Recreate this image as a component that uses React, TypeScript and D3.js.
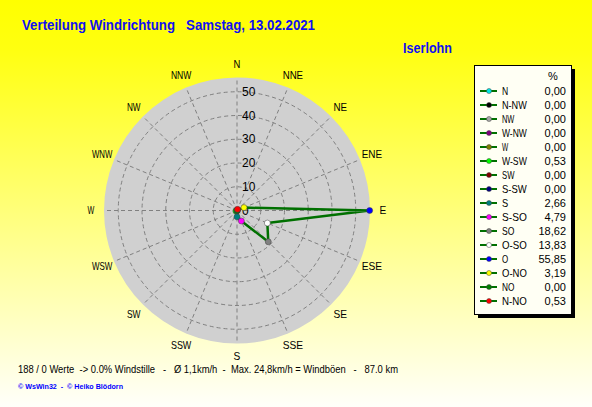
import React from "react";
import * as d3 from "d3";

const legendNames = ["N", "N-NW", "NW", "W-NW", "W", "W-SW", "SW", "S-SW", "S", "S-SO", "SO", "O-SO", "O", "O-NO", "NO", "N-NO"];
const legendValues = [0.0, 0.0, 0.0, 0.0, 0.0, 0.53, 0.0, 0.0, 2.66, 4.79, 18.62, 13.83, 55.85, 3.19, 0.0, 0.53];
const legendColors = ["#00e8e8", "#000000", "#a8a8a8", "#800080", "#808000", "#00ff00", "#800000", "#000080", "#008080", "#ff00ff", "#808080", "#ffffff", "#0000ff", "#ffff00", "#008000", "#ff0000"];
const compassLabels = ["N", "NNE", "NE", "ENE", "E", "ESE", "SE", "SSE", "S", "SSW", "SW", "WSW", "W", "WNW", "NW", "NNW"];
const ringTicks = [0, 10, 20, 30, 40, 50];

const W = 592, H = 407;
const cx = 237, cy = 210.5;
const R = 133;

export default function App() {
  const r = d3.scaleLinear().domain([0, 56]).range([0, R]);
  const pt = (deg: number, rad: number) => {
    const a = (deg * Math.PI) / 180;
    return [cx + rad * Math.sin(a), cy - rad * Math.cos(a)];
  };
  const pts = legendValues.map((v, i) => pt(-i * 22.5, r(v)));
  const line = d3.line().curve(d3.curveLinearClosed)(pts as [number, number][]);
  const font = "Arial, 'Liberation Sans', sans-serif";
  return (
    <svg width={W} height={H} style={{ position: "absolute", left: 0, top: 0, display: "block" }} fontFamily={font}>
      <defs>
        <linearGradient id="bg" x1="0" y1="0" x2="0" y2="1">
          <stop offset="0" stopColor="#ffff00" />
          <stop offset="0.12" stopColor="#ffff10" />
          <stop offset="1" stopColor="#fffffa" />
        </linearGradient>
      </defs>
      <rect x={0} y={0} width={W} height={H} fill="url(#bg)" />
      <text x={22} y={30} fill="#1010f0" fontWeight="bold" fontSize={14} textLength={293} lengthAdjust="spacingAndGlyphs" style={{ whiteSpace: "pre" }}>
        {"Verteilung Windrichtung   Samstag, 13.02.2021"}
      </text>
      <text x={403} y={53} fill="#1010f0" fontWeight="bold" fontSize={14} textLength={49} lengthAdjust="spacingAndGlyphs">Iserlohn</text>

      <circle cx={cx} cy={cy} r={R} fill="#d0d0d0" />
      {ringTicks.filter((t) => t > 0).map((t) => (
        <circle key={t} cx={cx} cy={cy} r={r(t)} fill="none" stroke="#808080" strokeDasharray="4,3" strokeWidth={1} />
      ))}
      {compassLabels.map((_, i) => {
        const [x, y] = pt(i * 22.5, R);
        return <line key={i} x1={cx} y1={cy} x2={x} y2={y} stroke="#808080" strokeDasharray="4,3" strokeWidth={1} />;
      })}
      {ringTicks.map((t) => (
        <text key={t} x={cx + 5} y={cy - r(t)} dy="0.35em" fontSize={12} fill="#000">{t}</text>
      ))}
      {compassLabels.map((lab, i) => {
        const [x, y] = pt(i * 22.5, 146);
        return (
          <text key={lab} x={x} y={y} dy="0.35em" textAnchor="middle" fontSize={11} fill="#000" textLength={lab.length * 6.8} lengthAdjust="spacingAndGlyphs">{lab}</text>
        );
      })}
      <path d={line || ""} fill="none" stroke="#007000" strokeWidth={2.5} strokeLinejoin="round" />
      {pts.map((p, i) => (
        <circle key={i} cx={p[0]} cy={p[1]} r={3} fill={legendColors[i]} stroke="#404040" strokeWidth={0.5} />
      ))}

      <rect x={478} y={69} width={97} height={249} fill="#000" />
      <rect x={474.5} y={65.5} width={97} height={249} fill="#fffff4" stroke="#000" strokeWidth={1} />
      <text x={553} y={80} textAnchor="middle" fontSize={11} fill="#000">%</text>
      {legendNames.map((n, i) => {
        const y = 91 + i * 14;
        return (
          <g key={n}>
            <line x1={480} x2={497} y1={y} y2={y} stroke="#007000" strokeWidth={2} />
            <circle cx={489} cy={y} r={2.5} fill={legendColors[i]} stroke="#404040" strokeWidth={0.5} />
            <text x={502} y={y} dy="0.35em" fontSize={11} fill="#000" textLength={n.length * 6.2} lengthAdjust="spacingAndGlyphs">{n}</text>
            <text x={566} y={y} dy="0.35em" textAnchor="end" fontSize={11} fill="#000">{legendValues[i].toFixed(2).replace(".", ",")}</text>
          </g>
        );
      })}

      <text x={18} y={373} fontSize={11} fill="#000" textLength={380} lengthAdjust="spacingAndGlyphs" style={{ whiteSpace: "pre" }}>
        {"188 / 0 Werte  -> 0.0% Windstille   -   Ø 1,1km/h  -  Max. 24,8km/h = Windböen   -   87.0 km"}
      </text>
      <text x={18} y={389} fontSize={8} fontWeight="bold" fill="#0000ff" textLength={105} lengthAdjust="spacingAndGlyphs" style={{ whiteSpace: "pre" }}>
        {"© WsWin32  -  © Heiko Blödorn"}
      </text>
    </svg>
  );
}
